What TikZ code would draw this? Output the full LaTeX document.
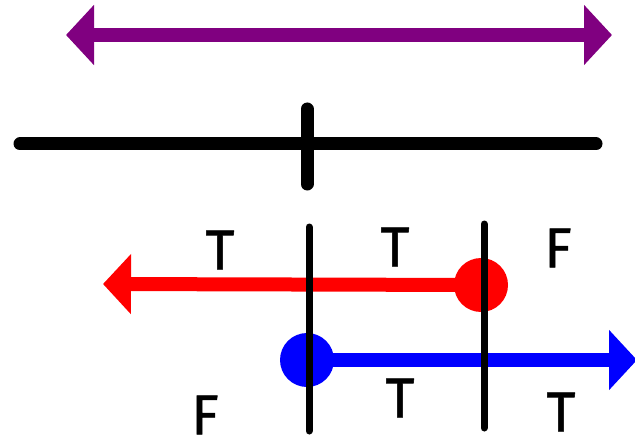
\documentclass[tikz,border=0pt]{standalone}
\usepackage{fontspec}
\setmainfont{Fira Sans}[FakeBold=1]
\usetikzlibrary{arrows.meta}
\definecolor{rpurple}{RGB}{128,0,128}
\tikzset{bigtip/.tip={Triangle[length=21pt,width=44pt]}}
\begin{document}
\begin{tikzpicture}[x=0.75pt,y=-0.75pt,
  thick line/.style={line width=10.5pt},
  divider/.style={line width=5.25pt,line cap=round,black},
  dot/.style={circle,inner sep=0pt,minimum size=40.5pt,fill=#1},
  letter/.style={font=\fontsize{42}{42}\selectfont,inner sep=0pt}]
\useasboundingbox (0,0) rectangle (635,442);
% purple double arrow
\coordinate (pL) at (66,35);
\coordinate (pR) at (612,35);
\draw[thick line,rpurple,bigtip-bigtip] (pL) -- (pR);
% black number line with tick
\coordinate (nL) at (20,144);
\coordinate (nR) at (596,144);
\coordinate (tT) at (307,109);
\coordinate (tB) at (307,184);
\draw[line width=9.75pt,line cap=round] (nL) -- (nR);
\draw[line width=9.75pt,line cap=round] (tT) -- (tB);
% red ray
\coordinate (rT) at (103,284);
\node[dot=red] (rD) at (481,285) {};
\draw[thick line,red,-bigtip] (rD.center) -- (rT);
% blue ray
\coordinate (bT) at (637,360);
\node[dot=blue] (bD) at (307,360) {};
\draw[thick line,blue,-bigtip] (bD.center) -- (bT);
% dividers
\coordinate (v1T) at (309,227);
\coordinate (v1B) at (309,431);
\coordinate (v2T) at (484,224);
\coordinate (v2B) at (484,428);
\draw[divider] (v1T) -- (v1B);
\draw[divider] (v2T) -- (v2B);
% labels
\node[letter] (t1) at (220,250) {T};
\node[letter] (t2) at (395,247) {T};
\node[letter] (f1) at (558,248) {F};
\node[letter] (f2) at (205,415) {F};
\node[letter] (t3) at (400,398) {T};
\node[letter] (t4) at (561,412) {T};
\end{tikzpicture}
\end{document}
